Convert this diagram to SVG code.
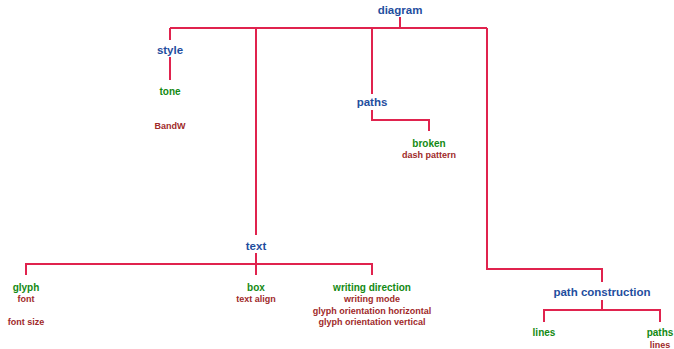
<svg xmlns="http://www.w3.org/2000/svg" width="674" height="349" viewBox="0 0 674 349">
<style>
text{font-family:"Liberation Sans",Arial,sans-serif;font-weight:bold;text-anchor:middle}
.b{fill:#1f4e9e;font-size:11.5px}
.g{fill:#138a13;font-size:10px}
.r{fill:#a02a2a;font-size:9px}
.c{fill:none;stroke:#e0234e;stroke-width:2}
</style>
<rect width="674" height="349" fill="#fff"/>
<g id="connectors" class="c">
<path d="M400 17V28M170 28H487M170 28V40M170 57V80"/>
<path d="M256 28V235M256 253V275M26 275V264H372V275"/>
<path d="M372 28V94M372 110V120H429V131"/>
<path d="M487 28V269H602V282M602 300V310M544 322V310H660V322"/>
</g>
<g id="diagram"><text class="b" x="400" y="14">diagram</text></g>
<g id="style"><text class="b" x="170" y="54">style</text></g>
<g id="tone"><text class="g" x="170" y="94.5">tone</text></g>
<g id="bandw"><text class="r" x="170" y="129">BandW</text></g>
<g id="paths"><text class="b" x="372" y="106">paths</text></g>
<g id="broken"><text class="g" x="429" y="146.5">broken</text><text class="r" x="429" y="158">dash pattern</text></g>
<g id="text"><text class="b" x="256" y="250">text</text></g>
<g id="glyph"><text class="g" x="26" y="290.5">glyph</text><text class="r" x="26" y="302">font</text><text class="r" x="26" y="325">font size</text></g>
<g id="box"><text class="g" x="256" y="290.5">box</text><text class="r" x="256" y="302">text align</text></g>
<g id="writing-direction"><text class="g" x="372" y="290.5">writing direction</text><text class="r" x="372" y="302">writing mode</text><text class="r" x="372" y="313.5">glyph orientation horizontal</text><text class="r" x="372" y="325">glyph orientation vertical</text></g>
<g id="path-construction"><text class="b" x="602" y="296">path construction</text></g>
<g id="lines"><text class="g" x="544" y="335.5">lines</text></g>
<g id="paths2"><text class="g" x="660" y="335.5">paths</text><text class="r" x="660" y="348">lines</text></g>
</svg>
